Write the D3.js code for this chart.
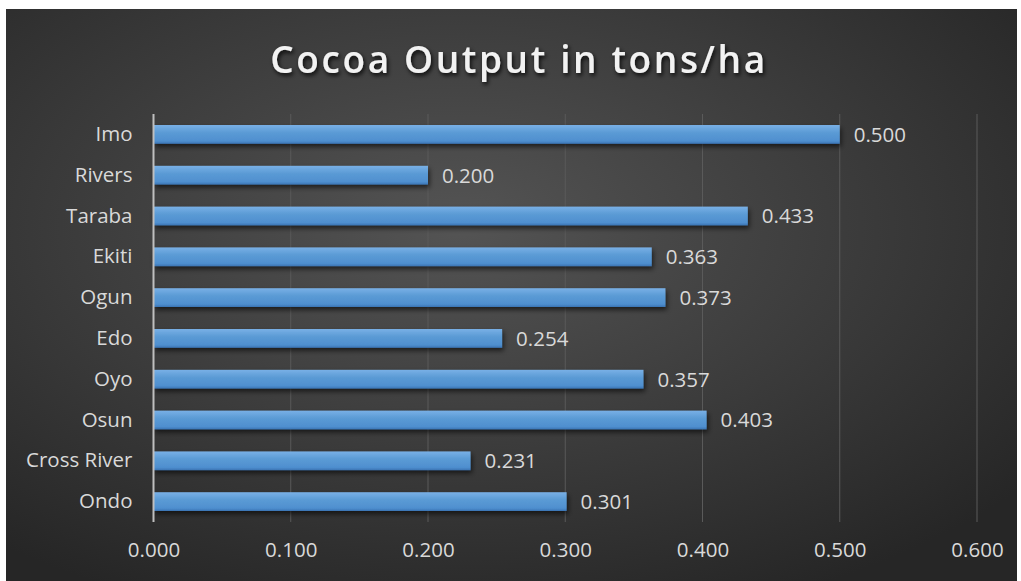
<!DOCTYPE html>
<html>
<head>
<meta charset="utf-8">
<script src="https://cdn.jsdelivr.net/npm/d3@7"></script>
<style>
  html, body { margin: 0; padding: 0; background: #ffffff; }
  svg { display: block; }
</style>
</head>
<body>
<svg id="chart" width="1021" height="581"></svg>
<script>
// Cocoa output per state, tons/ha
const states = ["Imo", "Rivers", "Taraba", "Ekiti", "Ogun", "Edo", "Oyo", "Osun", "Cross River", "Ondo"];
const output = [0.500, 0.200, 0.433, 0.363, 0.373, 0.254, 0.357, 0.403, 0.231, 0.301];
const xTicks = [0, 0.1, 0.2, 0.3, 0.4, 0.5, 0.6];
const chartTitle = "Cocoa Output in tons/ha";

const data = states.map((s, i) => ({ state: s, value: output[i] }));

const svg = d3.select("#chart");
const W = 1021, H = 581;
const panel = { x: 6, y: 9, w: 1011, h: 572 };
const margin = { left: 153.5, right: 44, top: 114, bottom: 59 };
const font = "'Open Sans', 'Noto Sans', sans-serif";
const labelSize = 20.5;

const defs = svg.append("defs");

// dark radial backdrop, lighter toward upper centre
const bg = defs.append("radialGradient").attr("id", "bgGrad")
  .attr("cx", "45%").attr("cy", "38%").attr("r", "72%");
bg.append("stop").attr("offset", "0%").attr("stop-color", "#545454");
bg.append("stop").attr("offset", "55%").attr("stop-color", "#3b3b3b");
bg.append("stop").attr("offset", "100%").attr("stop-color", "#262626");

// bar fill: light top, deeper bottom
const barGrad = defs.append("linearGradient").attr("id", "barGrad")
  .attr("x1", 0).attr("y1", 0).attr("x2", 0).attr("y2", 1);
barGrad.append("stop").attr("offset", "0%").attr("stop-color", "#79b0e6");
barGrad.append("stop").attr("offset", "40%").attr("stop-color", "#5b9bd5");
barGrad.append("stop").attr("offset", "85%").attr("stop-color", "#4f8fcf");
barGrad.append("stop").attr("offset", "100%").attr("stop-color", "#3a74b4");

const shadow = defs.append("filter").attr("id", "barShadow")
  .attr("x", "-5%").attr("y", "-30%").attr("width", "115%").attr("height", "190%");
shadow.append("feDropShadow").attr("dx", 1.5).attr("dy", 3).attr("stdDeviation", 2.5)
  .attr("flood-color", "#000").attr("flood-opacity", 0.6);

const tShadow = defs.append("filter").attr("id", "titleShadow")
  .attr("x", "-10%").attr("y", "-30%").attr("width", "120%").attr("height", "170%");
tShadow.append("feDropShadow").attr("dx", 1.5).attr("dy", 2.5).attr("stdDeviation", 2)
  .attr("flood-color", "#000").attr("flood-opacity", 0.85);

svg.append("rect")
  .attr("x", panel.x).attr("y", panel.y)
  .attr("width", panel.w).attr("height", panel.h)
  .attr("fill", "url(#bgGrad)");

const x = d3.scaleLinear().domain([0, 0.6]).range([margin.left, W - margin.right]);
const y = d3.scaleBand().domain(states).range([margin.top, H - margin.bottom]).paddingInner(0.54).paddingOuter(0.27);

// vertical gridlines
svg.append("g")
  .selectAll("line")
  .data(xTicks.slice(1))
  .join("line")
  .attr("x1", d => x(d)).attr("x2", d => x(d))
  .attr("y1", margin.top).attr("y2", H - margin.bottom)
  .attr("stroke", "#5a5a5a").attr("stroke-width", 1);

// x axis labels
const xAxis = d3.axisBottom(x).tickValues(xTicks).tickFormat(d3.format(".3f")).tickSize(0).tickPadding(0);
const gx = svg.append("g")
  .attr("transform", `translate(0,${H - margin.bottom + 20})`)
  .call(xAxis);
gx.select(".domain").remove();
gx.selectAll("text")
  .attr("fill", "#d9d9d9")
  .attr("font-family", font)
  .attr("font-size", labelSize)
  .attr("dy", "0.71em");

// bars
svg.append("g")
  .selectAll("rect")
  .data(data)
  .join("rect")
  .attr("x", x(0))
  .attr("y", d => y(d.state))
  .attr("width", d => x(d.value) - x(0))
  .attr("height", y.bandwidth())
  .attr("fill", "url(#barGrad)")
  .attr("filter", "url(#barShadow)");

// value labels
svg.append("g")
  .selectAll("text")
  .data(data)
  .join("text")
  .attr("x", d => x(d.value) + 14)
  .attr("y", d => y(d.state) + y.bandwidth() / 2)
  .attr("dy", "0.36em")
  .attr("fill", "#d9d9d9")
  .attr("font-family", font)
  .attr("font-size", labelSize)
  .text(d => d3.format(".3f")(d.value));

// category axis
const yAxis = d3.axisLeft(y).tickSize(0).tickPadding(21);
const gy = svg.append("g")
  .attr("transform", `translate(${margin.left},0)`)
  .call(yAxis);
gy.select(".domain").remove();
gy.selectAll("text")
  .attr("fill", "#d9d9d9")
  .attr("font-family", font)
  .attr("font-size", labelSize);

svg.append("line")
  .attr("x1", margin.left).attr("x2", margin.left)
  .attr("y1", margin.top).attr("y2", H - margin.bottom)
  .attr("stroke", "#bfbfbf").attr("stroke-width", 2);

// title
svg.append("text")
  .attr("x", 519).attr("y", 73)
  .attr("text-anchor", "middle")
  .attr("fill", "#f2f2f2")
  .attr("font-family", font)
  .attr("font-weight", 600)
  .attr("font-size", 37)
  .attr("letter-spacing", 2.6)
  .attr("filter", "url(#titleShadow)")
  .text(chartTitle);
</script>
</body>
</html>
